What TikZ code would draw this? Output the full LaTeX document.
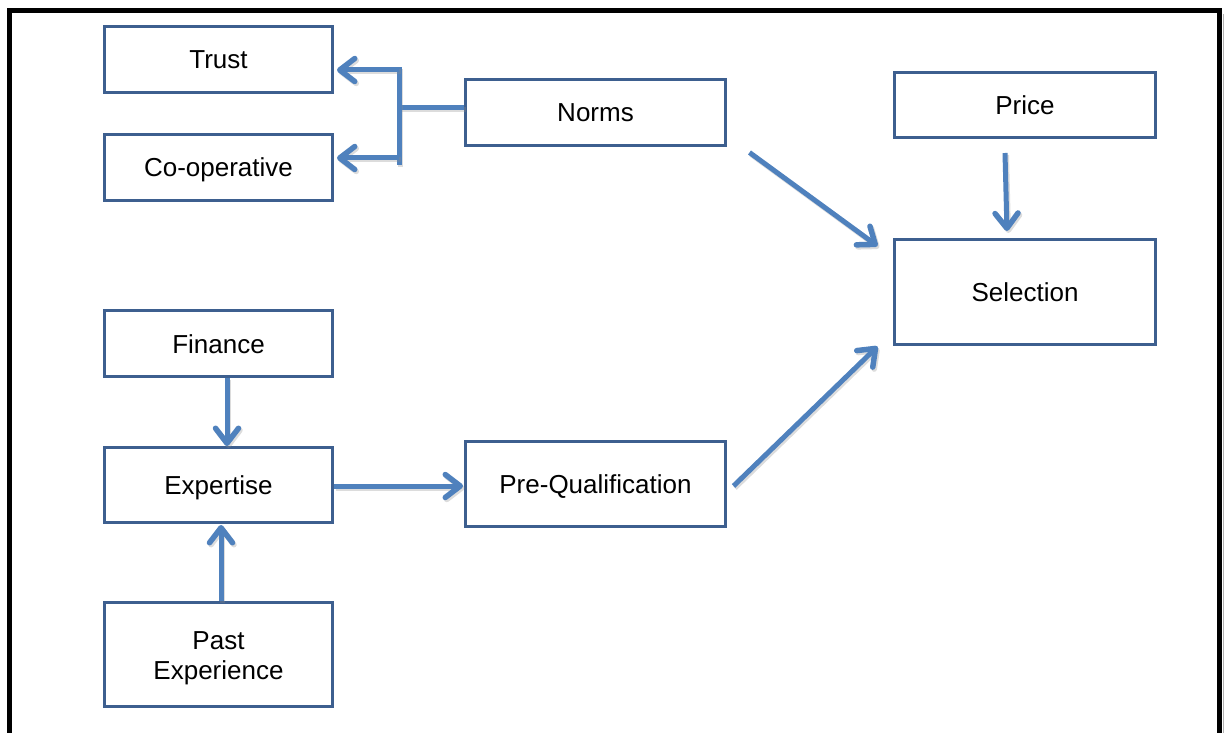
\documentclass[tikz,border=0pt]{standalone}
\usepackage{fontspec}
\setmainfont{Liberation Sans}
\usetikzlibrary{arrows.meta,calc}

\definecolor{boxline}{HTML}{3D5F8F}
\definecolor{arrowblue}{HTML}{4F81BD}

\begin{document}
\begin{tikzpicture}[x=1pt,y=-1pt,
  box/.style={draw=boxline, line width=3pt, fill=white, align=center,
    inner sep=0pt, font=\fontsize{26}{30}\selectfont},
  onebox/.style={box, text height=19pt, text depth=0pt},
  wire/.style={draw=arrowblue, line width=5pt,
    preaction={draw=black!45, opacity=0.3, line width=5pt,
      transform canvas={shift={(1.5pt,-2pt)}}}},
  conn/.style={wire, -{Straight Barb[length=15pt,width=23pt,line width=5.5pt,round]}},
]
\useasboundingbox (0,0) rectangle (1227,733);

% outer frame (open at the bottom edge of the page)
\draw[black!30, line width=1.5pt] (1223.5,14) -- (1223.5,733);
\draw[black, line width=5pt] (9.5,733) -- (9.5,10.5) -- (1219.5,10.5) -- (1219.5,733);

% boxes
\node[onebox, minimum width=228pt, minimum height=66pt]  (trust) at (218.5,59.5)  {Trust};
\node[onebox, minimum width=228pt, minimum height=66pt]  (coop)  at (218.5,167.5) {Co-operative};
\node[onebox, minimum width=260pt, minimum height=66pt]  (norms) at (595.5,112.5) {Norms};
\node[onebox, minimum width=261pt, minimum height=65pt]  (price) at (1025,105)    {Price};
\node[onebox, minimum width=261pt, minimum height=105pt] (sel)   at (1025,292)    {Selection};
\node[onebox, minimum width=228pt, minimum height=66pt]  (fin)   at (218.5,343.5) {Finance};
\node[onebox, minimum width=228pt, minimum height=75pt]  (exp)   at (218.5,485)   {Expertise};
\node[onebox, minimum width=260pt, minimum height=85pt]  (preq)  at (595.5,484)   {Pre-Qualification};
\node[box, minimum width=228pt, minimum height=104pt]
  (past)  at (218.5,654.5) {\rule{0pt}{26pt}Past\\Experience};

% bracket from Norms to Trust and Co-operative
\coordinate (jn)  at ($(norms.west)+(-65,-4.5)$);
\coordinate (jt)  at ($(jn)+(0,-38)$);
\coordinate (jc)  at ($(jn)+(0,50)$);
\draw[wire] (norms.west |- jn) -- (jn);
\draw[wire] ($(jt)+(0,-2.5)$) -- ($(jc)+(0,7)$);
\draw[conn] (jt) -- ($(trust.east |- jt)+(3,0)$);
\draw[conn] (jc) -- ($(coop.east |- jc)+(3,0)$);

% into Selection
\coordinate (ns) at ($(norms.south east)+(22.5,5.5)$);
\coordinate (nt) at ($(sel.north west)+(-15.5,8)$);
\draw[conn] (ns) -- (nt);

\coordinate (ps) at ($(price.south)+(-20,14)$);
\coordinate (pt) at ($(sel.north)+(-18,-7)$);
\draw[conn] (ps) -- (pt);

\coordinate (qs) at ($(preq.east)+(6.5,2)$);
\coordinate (qt) at ($(sel.south west)+(-15.5,0.5)$);
\draw[conn] (qs) -- (qt);

% left column
\coordinate (fs) at ($(fin.south)+(8.5,0)$);
\draw[conn] (fs) -- (exp.north -| fs);

\coordinate (es) at ($(past.north)+(2.5,0)$);
\draw[conn] (es) -- ($(exp.south -| es)+(0,1)$);

\coordinate (xs) at ($(exp.east)+(0,1)$);
\draw[conn] (xs) -- ($(preq.west |- xs)+(-1,0)$);
\end{tikzpicture}
\end{document}
